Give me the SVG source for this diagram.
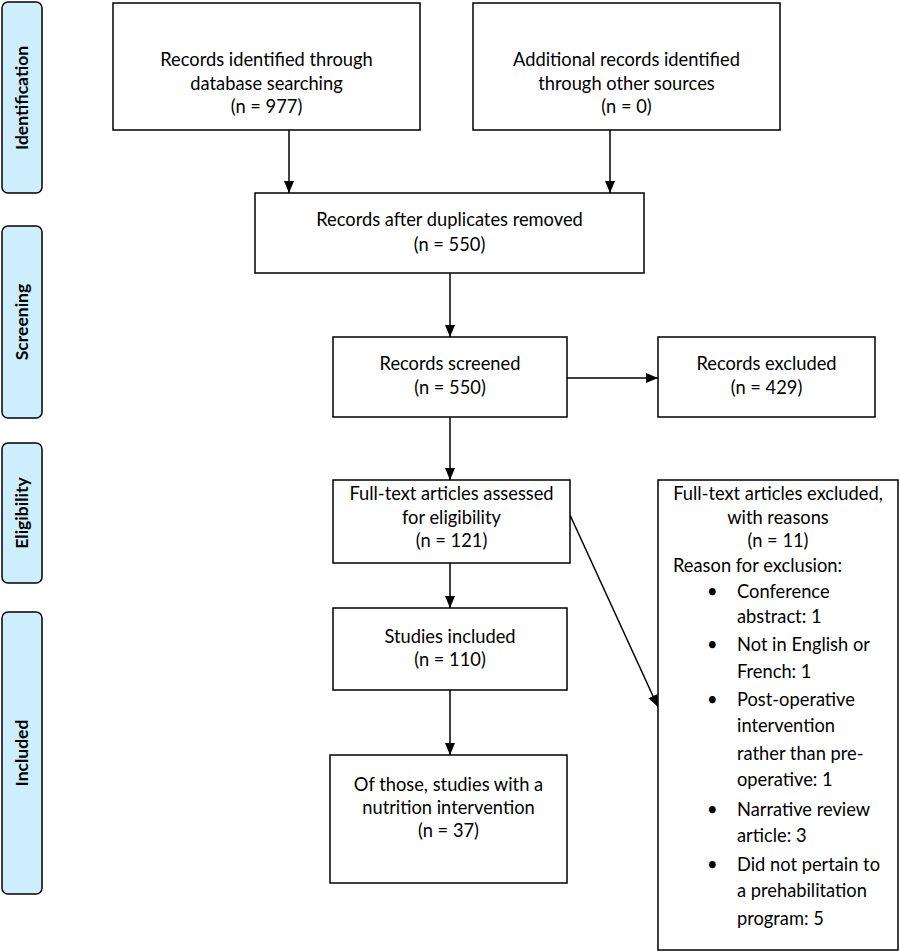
<svg xmlns="http://www.w3.org/2000/svg" width="900" height="952" viewBox="0 0 900 952">
<defs>
<style>
.box{fill:#fff;stroke:#000;stroke-width:1.5}
.side{fill:#cdeefd;stroke:#000;stroke-width:1.5}
text{font-family:Lato,"Liberation Sans",sans-serif;font-size:18.3px;fill:#000}
.c{text-anchor:middle}
.s{font-weight:bold;font-size:17.5px;text-anchor:middle}
.con{stroke:#000;stroke-width:1.5;fill:none;marker-end:url(#ah)}
</style>
<marker id="ah" markerWidth="12" markerHeight="12" viewBox="0 0 12 12" refX="12" refY="6" orient="auto" markerUnits="userSpaceOnUse">
<path d="M0,1 L12,6 L0,11 Z" fill="#000"/>
</marker>
</defs>
<rect width="900" height="952" fill="#fff"/>
<g id="lane-identification"><rect class="side" x="2" y="2" width="40" height="191" rx="6"/><text class="s" transform="translate(28,98) rotate(-90)">Identification</text></g>
<g id="lane-screening"><rect class="side" x="2" y="226" width="40" height="192" rx="6"/><text class="s" transform="translate(28,322) rotate(-90)">Screening</text></g>
<g id="lane-eligibility"><rect class="side" x="2" y="443" width="40" height="140" rx="6"/><text class="s" transform="translate(28,513) rotate(-90)">Eligibility</text></g>
<g id="lane-included"><rect class="side" x="2" y="612" width="40" height="282" rx="6"/><text class="s" transform="translate(28,753) rotate(-90)">Included</text></g>

<g id="connectors">
<line class="con" x1="289" y1="130" x2="289" y2="193"/>
<line class="con" x1="610" y1="130" x2="610" y2="193"/>
<line class="con" x1="450" y1="273" x2="450" y2="337"/>
<line class="con" x1="567" y1="378" x2="658" y2="378"/>
<line class="con" x1="450" y1="417" x2="450" y2="480"/>
<line class="con" x1="570" y1="515" x2="658" y2="707"/>
<line class="con" x1="450" y1="563" x2="450" y2="608"/>
<line class="con" x1="450" y1="690" x2="450" y2="755"/>
</g>

<g id="n1"><rect class="box" x="113" y="3" width="307" height="127"/>
<text class="c" x="266.5" y="66">Records identified through</text>
<text class="c" x="266.5" y="90">database searching</text>
<text class="c" x="266.5" y="113">(n = 977)</text></g>
<g id="n2"><rect class="box" x="473" y="3" width="307" height="127"/>
<text class="c" x="626.5" y="66">Additional records identified</text>
<text class="c" x="626.5" y="90">through other sources</text>
<text class="c" x="626.5" y="113">(n = 0)</text></g>
<g id="n3"><rect class="box" x="255" y="193" width="389" height="80"/>
<text class="c" x="449.5" y="226">Records after duplicates removed</text>
<text class="c" x="449.5" y="251">(n = 550)</text></g>
<g id="n4"><rect class="box" x="333" y="337" width="234" height="80"/>
<text class="c" x="450" y="370">Records screened</text>
<text class="c" x="450" y="394">(n = 550)</text></g>
<g id="n5"><rect class="box" x="658" y="337" width="217" height="80"/>
<text class="c" x="766.5" y="370">Records excluded</text>
<text class="c" x="766.5" y="394">(n = 429)</text></g>
<g id="n6"><rect class="box" x="333" y="480" width="237" height="83"/>
<text class="c" x="451.5" y="500">Full-text articles assessed</text>
<text class="c" x="451.5" y="524">for eligibility</text>
<text class="c" x="451.5" y="547">(n = 121)</text></g>
<g id="n7"><rect class="box" x="658" y="480" width="240" height="470"/>
<text class="c" x="778" y="500">Full-text articles excluded,</text>
<text class="c" x="778" y="524">with reasons</text>
<text class="c" x="778" y="547">(n = 11)</text>
<text x="673" y="572">Reason for exclusion:</text>
<text x="707" y="598">•</text><text x="737" y="598">Conference</text>
<text x="737" y="623">abstract: 1</text>
<text x="707" y="651">•</text><text x="737" y="651">Not in English or</text>
<text x="737" y="678">French: 1</text>
<text x="707" y="706">•</text><text x="737" y="706">Post-operative</text>
<text x="737" y="732">intervention</text>
<text x="737" y="760">rather than pre-</text>
<text x="737" y="786">operative: 1</text>
<text x="707" y="816">•</text><text x="737" y="816">Narrative review</text>
<text x="737" y="842">article: 3</text>
<text x="707" y="871">•</text><text x="737" y="871">Did not pertain to</text>
<text x="737" y="897">a prehabilitation</text>
<text x="737" y="925">program: 5</text></g>
<g id="n8"><rect class="box" x="333" y="608" width="234" height="82"/>
<text class="c" x="450" y="643">Studies included</text>
<text class="c" x="450" y="666">(n = 110)</text></g>
<g id="n9"><rect class="box" x="330" y="755" width="237" height="128"/>
<text class="c" x="448.5" y="791">Of those, studies with a</text>
<text class="c" x="448.5" y="814">nutrition intervention</text>
<text class="c" x="448.5" y="837">(n = 37)</text></g>
</svg>
